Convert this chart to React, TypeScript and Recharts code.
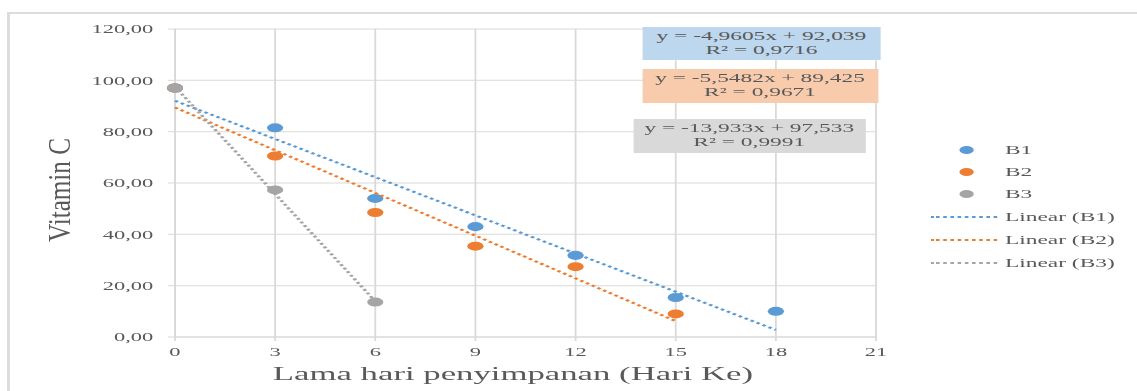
import React from 'react';
import { ScatterChart, Scatter, XAxis, YAxis, ZAxis, CartesianGrid } from 'recharts';

// data
const days = [0, 3, 6, 9, 12, 15, 18];
const b1 = [97.0, 81.5, 54.0, 43.0, 31.8, 15.4, 10.0];
const b2 = [97.0, 70.5, 48.5, 35.4, 27.4, 9.0];
const b3 = [97.0, 57.3, 13.6];

const seriesNames = ['B1', 'B2', 'B3'];
const seriesValues = [b1, b2, b3];
const colors = ['#5b9bd5', '#ed7d31', '#a5a5a5'];
const boxColors = ['#bdd7ee', '#f8cbad', '#d9d9d9'];

// linear trend lines (from the equations in the picture)
const slopes = [-4.9605, -5.5482, -13.933];
const intercepts = [92.039, 89.425, 97.533];
const r2 = [0.9716, 0.9671, 0.9991];

const xTicks = [0, 3, 6, 9, 12, 15, 18, 21];
const yTicks = [0, 20, 40, 60, 80, 100, 120];

// the original image is stretched sideways; draw narrow and scale up
const S = 1.8;
const W = 1137 / S;
const FONT = '"Liberation Serif", "Times New Roman", serif';
const TEXT = '#595959';

const comma = (v: number) => String(v).replace('.', ',');

const series = seriesValues.map((vals) => vals.map((y, j) => ({ x: days[j], y })));
const trends = seriesValues.map((vals, i) => {
  const last = days[vals.length - 1];
  return [
    { x: 0, y: intercepts[i] },
    { x: last, y: intercepts[i] + slopes[i] * last }
  ];
});

// equation boxes
const boxes = [
  { left: 357, top: 27, width: 132, height: 33 },
  { left: 356.5, top: 69, width: 131.5, height: 34 },
  { left: 351.5, top: 119, width: 129.5, height: 34 }
];

const legendRows = [150, 172, 194, 217, 240, 263];

export default function App() {
  return (
    <div style={{ position: 'absolute', left: 0, top: 0, width: 1137, height: 391, background: '#fff', overflow: 'hidden' }}>
      <div
        style={{
          position: 'absolute',
          left: 7,
          top: 12,
          right: 0,
          bottom: 0,
          borderTop: '2px solid #dcdcdc',
          borderLeft: '3px solid #dcdcdc'
        }} />
      <div style={{ position: 'absolute', left: 0, top: 0, width: W, height: 391, transform: `scaleX(${S})`, transformOrigin: '0 0', fontFamily: FONT }}>
        <ScatterChart width={W} height={391} margin={{ top: 29, right: W - 486.7, bottom: 24, left: 37.2 }}>
          <CartesianGrid stroke="#d9d9d9" />
          <XAxis
            type="number"
            dataKey="x"
            domain={[0, 21]}
            ticks={xTicks}
            height={30}
            tickSize={4}
            tickMargin={6}
            axisLine={{ stroke: '#d9d9d9' }}
            tickLine={{ stroke: '#d9d9d9' }}
            tick={{ fill: TEXT, fontSize: 12.5, fontFamily: FONT }}
            label={() =>
            <text x={285} y={380} textAnchor="middle" fontSize={19.3} fill={TEXT} fontFamily={FONT}>
                Lama hari penyimpanan (Hari Ke)
              </text>
            } />
          <YAxis
            type="number"
            dataKey="y"
            domain={[0, 120]}
            ticks={yTicks}
            width={60}
            tickSize={4}
            tickMargin={8}
            axisLine={{ stroke: '#d9d9d9' }}
            tickLine={{ stroke: '#d9d9d9' }}
            tickFormatter={(v: number) => v.toFixed(2).replace('.', ',')}
            tick={{ fill: TEXT, fontSize: 12.5, fontFamily: FONT }}
            label={() =>
            <text
              x={33}
              y={190}
              transform="rotate(-90 33 190)"
              textAnchor="middle"
              dominantBaseline="central"
              fontSize={17}
              fill={TEXT}
              fontFamily={FONT}
              textLength={104}
              lengthAdjust="spacingAndGlyphs">
                Vitamin C
              </text>
            } />
          <ZAxis range={[50, 50]} />
          {series.map((d, i) =>
          <Scatter key={seriesNames[i]} name={seriesNames[i]} data={d} fill={colors[i]} isAnimationActive={false} />
          )}
          {trends.map((d, i) =>
          <Scatter
            key={'t' + i}
            name={`Linear (${seriesNames[i]})`}
            data={d}
            line={{ stroke: colors[i], strokeWidth: 2, strokeDasharray: '2 2' }}
            shape={() => <g />}
            isAnimationActive={false} />
          )}
        </ScatterChart>

        {boxes.map((b, i) =>
        <div
          key={i}
          style={{
            position: 'absolute',
            left: b.left,
            top: b.top,
            width: b.width,
            height: b.height,
            background: boxColors[i],
            color: TEXT,
            fontSize: 13,
            lineHeight: '14px',
            textAlign: 'center',
            whiteSpace: 'pre',
            paddingTop: 2,
            boxSizing: 'border-box'
          }}>
            {`y = ${comma(slopes[i])}x + ${comma(intercepts[i])}\nR² = ${comma(r2[i])}`}
          </div>
        )}

        {[...seriesNames, ...seriesNames.map((n) => `Linear (${n})`)].map((name, i) => {
          const c = colors[i % 3];
          const isLine = i >= 3;
          return (
            <div key={name} style={{ position: 'absolute', left: 0, top: legendRows[i] - 8, height: 16, width: W }}>
              {isLine ?
              <div style={{ position: 'absolute', left: 516.7, top: 7, width: 37, borderTop: `2px dotted ${c}` }} /> :
              <div style={{ position: 'absolute', left: 533, top: 4, width: 8, height: 8, borderRadius: '50%', background: c }} />
              }
              <div style={{ position: 'absolute', left: 558.3, top: 0, lineHeight: '16px', fontSize: 13, color: TEXT }}>{name}</div>
            </div>);
        })}
      </div>
    </div>);
}
